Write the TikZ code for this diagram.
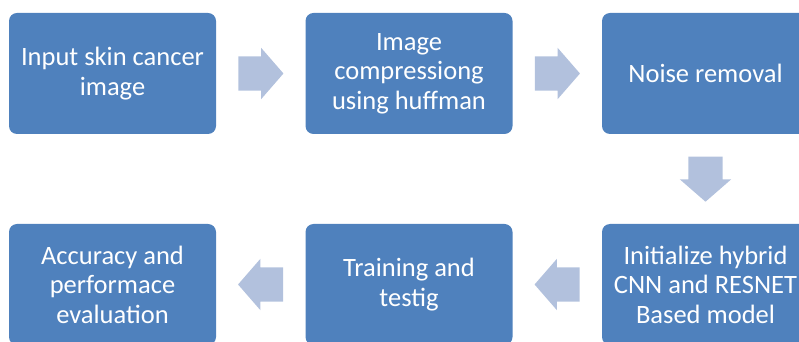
\documentclass[tikz,border=0pt]{standalone}
\usepackage{fontspec}
\setmainfont{Carlito}
\usetikzlibrary{shapes.arrows, calc}

\definecolor{boxblue}{HTML}{4F81BD}
\definecolor{arrowblue}{HTML}{B2C1DD}

\tikzset{
	stepbox/.style={rectangle, rounded corners=8pt, fill=boxblue, text=white,
		minimum width=207pt, minimum height=121pt, inner sep=0pt, align=center,
		font=\fontsize{26.5}{29.5}\selectfont},
	flowarrow/.style={single arrow, fill=arrowblue, minimum height=45pt,
		inner xsep=0pt, inner ysep=17pt, single arrow head extend=8.5pt,
		single arrow tip angle=98, anchor=tail}
}

\begin{document}
\begin{tikzpicture}[x=1pt, y=1pt]

	\clip (0,0) rectangle (799,342);
	
	% top row
	\node[stepbox] (input) at (112.5,268.5) {Input skin cancer\\image};
	\node[stepbox] (compress) at (409,268.5) {Image\\compressiong\\using huffman};
	\node[stepbox] (noise) at (705.5,268.5) {Noise removal};
	
	% bottom row
	\node[stepbox] (model) at (705.5,57.5) {Initialize hybrid\\CNN and RESNET\\Based model};
	\node[stepbox] (train) at (409,57.5) {Training and\\testig};
	\node[stepbox] (eval) at (112.5,57.5) {Accuracy and\\performace\\evaluation};
	
	% arrows (tail placed half a length before the gap's middle)
	\node[flowarrow] (a1) at ($(input.east)!0.5!(compress.west)!22.5pt!(input.east)$) {};
	\node[flowarrow] (a2) at ($(compress.east)!0.5!(noise.west)!22.5pt!(compress.east)$) {};
	\node[flowarrow, rotate=-90] (a3) at ($(noise.south)!0.5!(model.north)!22.5pt!(noise.south)$) {};
	\node[flowarrow, rotate=180] (a4) at ($(model.west)!0.5!(train.east)!22.5pt!(model.west)$) {};
	\node[flowarrow, rotate=180] (a5) at ($(train.west)!0.5!(eval.east)!22.5pt!(train.west)$) {};

\end{tikzpicture}
\end{document}
